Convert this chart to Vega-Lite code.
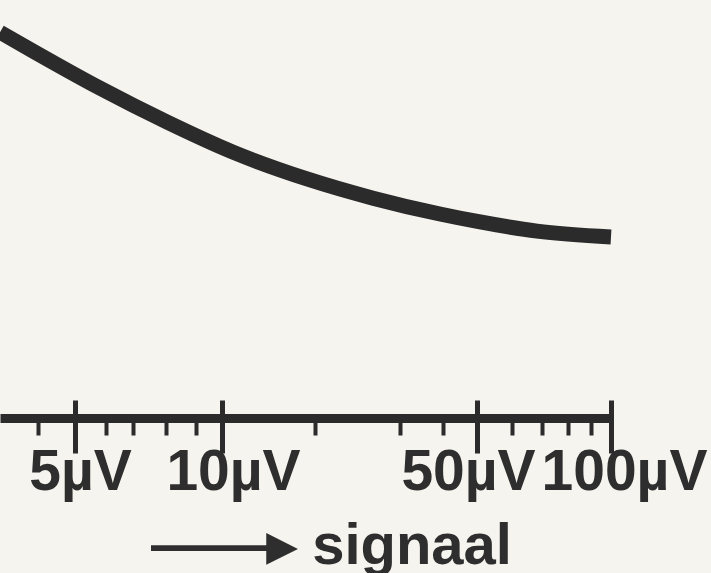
{
  "$schema": "https://vega.github.io/schema/vega-lite/v6.json",
  "width": 711,
  "height": 418,
  "autosize": {"type": "none"},
  "padding": {"left": 0, "top": 0, "right": 0, "bottom": 155},
  "background": "#f6f4ee",
  "config": {"view": {"stroke": null}},
  "datasets": {
    "curve": [
      {"signal": 3.2, "level": 92.3},
      {"signal": 3.89, "level": 87.8},
      {"signal": 5.78, "level": 78.9},
      {"signal": 8.02, "level": 70.8},
      {"signal": 10.85, "level": 63.6},
      {"signal": 18.84, "level": 57.2},
      {"signal": 26.38, "level": 52.6},
      {"signal": 39.1, "level": 48.8},
      {"signal": 50.8, "level": 46.9},
      {"signal": 68.2, "level": 44.7},
      {"signal": 100, "level": 43.3}
    ],
    "majors": [{"signal": 5}, {"signal": 10}, {"signal": 50}, {"signal": 100}]
  },
  "layer": [
    {
      "data": {"name": "curve"},
      "mark": {"type": "line", "interpolate": "monotone", "strokeWidth": 15, "color": "#2b2b2b", "strokeCap": "butt"},
      "encoding": {
        "x": {
          "field": "signal",
          "type": "quantitative",
          "scale": {"type": "log", "domain": [3.2, 5, 7, 10, 20, 30, 50, 100], "range": [0, 75, 133, 222, 315, 400, 477, 611]},
          "axis": {
            "orient": "bottom",
            "values": [4, 5, 6, 7, 8, 9, 10, 20, 30, 40, 50, 60, 70, 80, 90, 100],
            "labelExpr": "indexof([5, 10, 50, 100], datum.value) >= 0 ? datum.value + 'µV' : ''",
            "labelOverlap": false,
            "labelFlush": false,
            "labelBaseline": "alphabetic",
            "labelPadding": 54,
            "labelFont": "Liberation Sans",
            "labelFontWeight": "bold",
            "labelFontSize": 57,
            "labelColor": "#2e2e2e",
            "labelOffset": {
              "condition": [
                {"test": "datum.value == 50", "value": -9},
                {"test": "datum.value == 100", "value": 13},
                {"test": "datum.value == 10", "value": 11}
              ],
              "value": 5
            },
            "tickSize": 17,
            "tickWidth": 4,
            "tickColor": "#2b2b2b",
            "domainColor": "#2b2b2b",
            "domainWidth": 9,
            "grid": false,
            "title": "——▸ signaal",
            "titleFont": "Liberation Sans",
            "titleFontSize": 58,
            "titleFontWeight": "bold",
            "titleColor": "#2e2e2e",
            "titleX": 331,
            "titleY": 145,
            "titleBaseline": "alphabetic",
            "titleAlign": "center"
          }
        },
        "y": {
          "field": "level",
          "type": "quantitative",
          "scale": {"domain": [0, 100]},
          "axis": null
        }
      }
    },
    {
      "data": {"name": "majors"},
      "mark": {"type": "rule", "opacity": 0},
      "encoding": {
        "x": {
          "field": "signal",
          "type": "quantitative",
          "scale": {"type": "log", "domain": [3.2, 5, 7, 10, 20, 30, 50, 100], "range": [0, 75, 133, 222, 315, 400, 477, 611]},
          "axis": {
            "orient": "bottom",
            "offset": -18,
            "values": [5, 10, 50, 100],
            "tickSize": 53,
            "tickWidth": 5,
            "tickColor": "#2b2b2b",
            "domain": false,
            "labels": false,
            "grid": false,
            "title": null
          }
        }
      }
    }
  ],
  "resolve": {"axis": {"x": "independent"}}
}
